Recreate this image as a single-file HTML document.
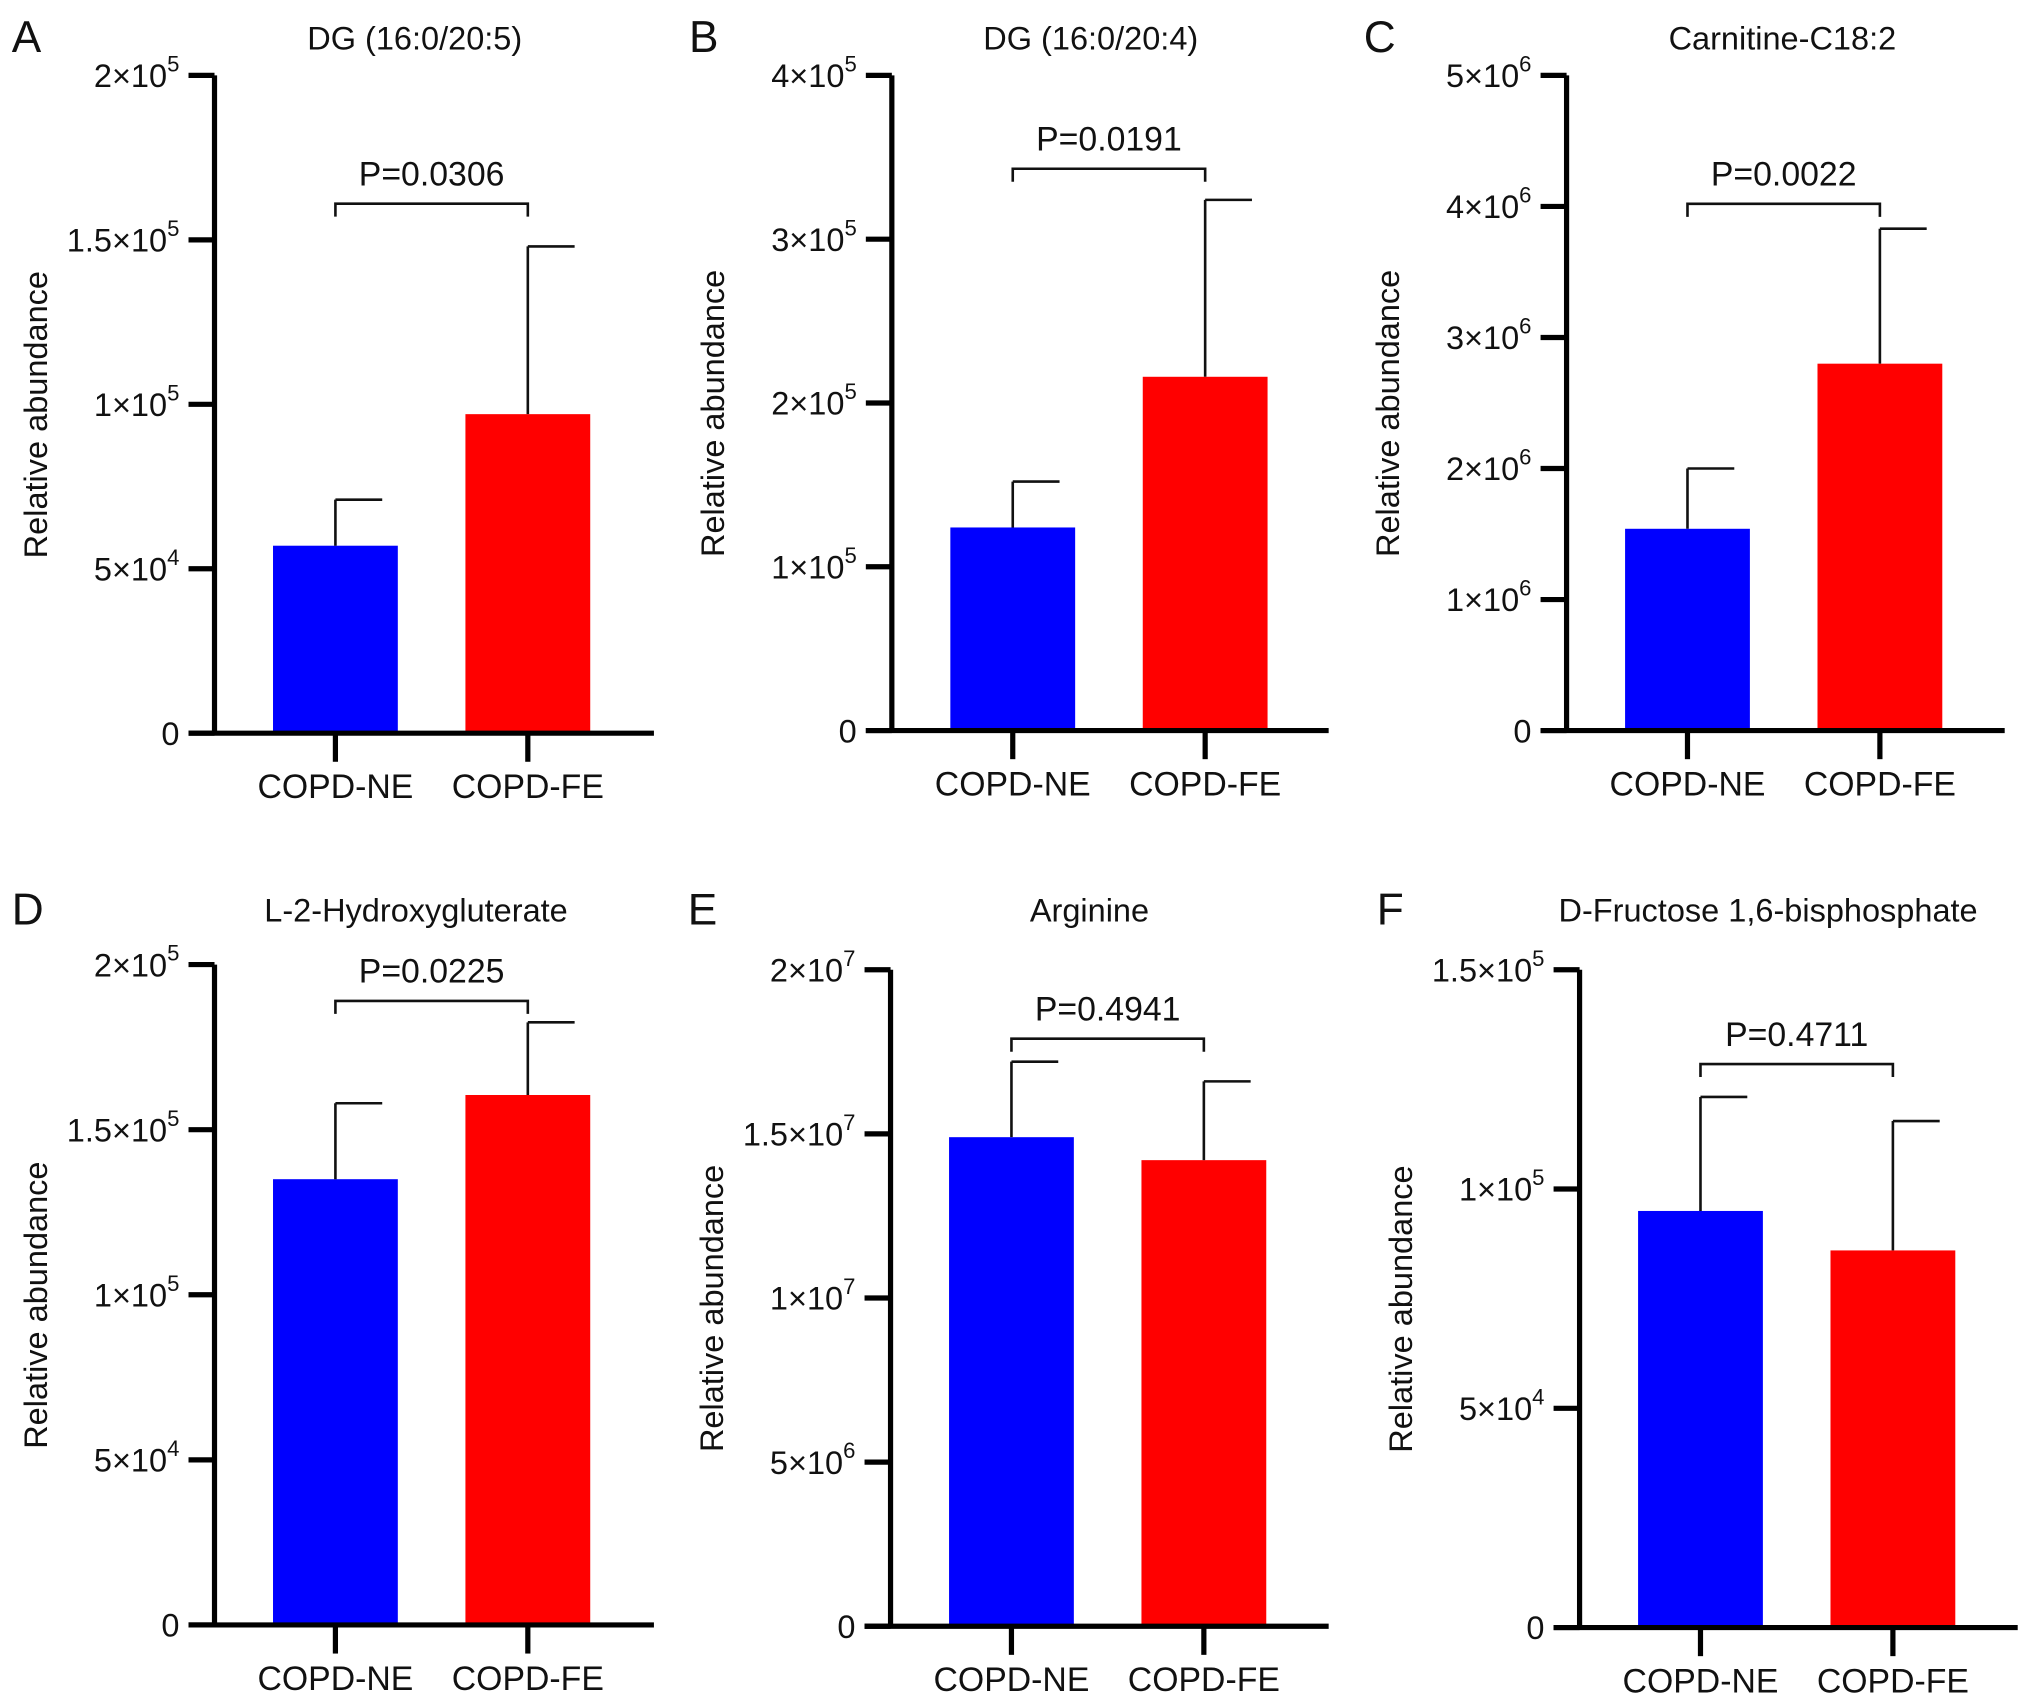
<!DOCTYPE html>
<html><head><meta charset="utf-8"><style>
html,body{margin:0;padding:0;background:#fff}
svg{display:block}
text{font-family:"Liberation Sans",Arial,sans-serif;fill:#111}
</style></head><body>
<svg id="fig" width="2032" height="1701" viewBox="0 0 1563 1308.5" preserveAspectRatio="none" xmlns="http://www.w3.org/2000/svg"></svg>
<script>
const panelLetters = ["A","B","C","D","E","F"];
const panelTitles = ["DG (16:0/20:5)","DG (16:0/20:4)","Carnitine-C18:2","L-2-Hydroxygluterate","Arginine","D-Fructose 1,6-bisphosphate"];
const categories = ["COPD-NE","COPD-FE"];
const meansNE = [57000, 124000, 1540000, 135000, 14900000, 95000];
const meansFE = [97000, 216000, 2800000, 160500, 14200000, 86000];
const errNE = [71000, 152000, 2000000, 158000, 17200000, 121000];
const errFE = [148000, 324000, 3830000, 182500, 16600000, 115500];
const pValues = ["P=0.0306","P=0.0191","P=0.0022","P=0.0225","P=0.4941","P=0.4711"];
const bracketValues = [161000, 343000, 4020000, 189000, 17900000, 128500];
const yMaxes = [200000, 400000, 5000000, 200000, 20000000, 150000];
const tickMantissa = [["0","5","1","1.5","2"],["0","1","2","3","4"],["0","1","2","3","4","5"],["0","5","1","1.5","2"],["0","5","1","1.5","2"],["0","5","1","1.5"]];
const tickExp = [["","4","5","5","5"],["","5","5","5","5"],["","6","6","6","6","6"],["","4","5","5","5"],["","6","7","7","7"],["","4","5","5"]];
const tickValues = [[0,50000,100000,150000,200000],[0,100000,200000,300000,400000],[0,1e6,2e6,3e6,4e6,5e6],[0,50000,100000,150000,200000],[0,5e6,1e7,1.5e7,2e7],[0,50000,100000,150000]];

// layout (not data)
const layout = [
 {ax:165, top:58, zero:564, right:503, ty:38, tx:319},
 {ax:686, top:58, zero:562, right:1022, ty:38, tx:839},
 {ax:1205, top:58, zero:562, right:1542, ty:38, tx:1371},
 {ax:165, top:742, zero:1250, right:503, ty:709, tx:320},
 {ax:685, top:746, zero:1251, right:1022, ty:709, tx:838},
 {ax:1215, top:746, zero:1252, right:1552, ty:709, tx:1360}
];
const NS="http://www.w3.org/2000/svg";
const svg=document.getElementById('fig');
function mk(tag,attrs,parent){const e=document.createElementNS(NS,tag);for(const k in attrs)e.setAttribute(k,attrs[k]);(parent||svg).appendChild(e);return e;}

layout.forEach((L,i)=>{
  const g=mk('g',{});
  
  
  const y=v=>L.zero-(v/yMaxes[i])*(L.zero-L.top);
  const c1=L.ax+93, c2=L.ax+241, bw=96;
  const xs=[c1,c2];
  const lt=mk('text',{x:L.ax-156,y:L.ty+2,'font-size':34},g); lt.textContent=panelLetters[i];
  
  
  const tt=mk('text',{x:L.tx,y:L.ty,'font-size':25,'text-anchor':'middle'},g); tt.textContent=panelTitles[i];
  
  
  const means=[meansNE[i],meansFE[i]], errs=[errNE[i],errFE[i]], cols=['#0000ff','#ff0000'];
  for(let k=0;k<2;k++){
    const r=mk('rect',{x:xs[k]-bw/2,y:y(means[k]),width:bw,height:L.zero-y(means[k]),fill:cols[k]},g);
    
    
    const eb=mk('path',{d:`M${xs[k]} ${y(means[k])}V${y(errs[k])}M${xs[k]} ${y(errs[k])}H${xs[k]+36}`,stroke:'#111','stroke-width':2,fill:'none'},g);
    
    
  }
  const axp=mk('path',{d:`M${L.ax} ${L.top}V${L.zero}M${L.ax-20} ${L.zero}H${L.right}`,stroke:'#000','stroke-width':4,fill:'none'},g);
  
  
  tickValues[i].forEach((v,j)=>{
    mk('line',{x1:L.ax-20,x2:L.ax,y1:y(v),y2:y(v),stroke:'#000','stroke-width':4},g);
    const t=mk('text',{x:L.ax-27,y:y(v)+9,'font-size':25,'text-anchor':'end'},g);
    
    
    if(tickExp[i][j]===''){t.textContent=tickMantissa[i][j];}
    else{
      const a=mk('tspan',{},t);a.textContent=tickMantissa[i][j]+'×10';
      const b=mk('tspan',{'font-size':17,dy:-12},t);b.textContent=tickExp[i][j];
    }
  });
  xs.forEach((x,k)=>{
    mk('line',{x1:x,x2:x,y1:L.zero,y2:L.zero+22,stroke:'#000','stroke-width':4},g);
    const t=mk('text',{x:x,y:L.zero+50,'font-size':26,'text-anchor':'middle'},g);t.textContent=categories[k];
    
    
  });
  const yt=mk('text',{x:0,y:0,'font-size':25,'text-anchor':'middle',transform:`translate(${L.ax-129},${(L.top+L.zero)/2+8}) rotate(-90)`},g);
  yt.textContent='Relative abundance';
  
  
  const by=y(bracketValues[i]);
  const br=mk('path',{d:`M${c1} ${by+10}V${by}H${c2}V${by+10}`,stroke:'#111','stroke-width':2,fill:'none'},g);
  
  
  const pt=mk('text',{x:(c1+c2)/2,y:by-14,'font-size':26,'text-anchor':'middle'},g);pt.textContent=pValues[i];
  
  
});
</script>
</body></html>
